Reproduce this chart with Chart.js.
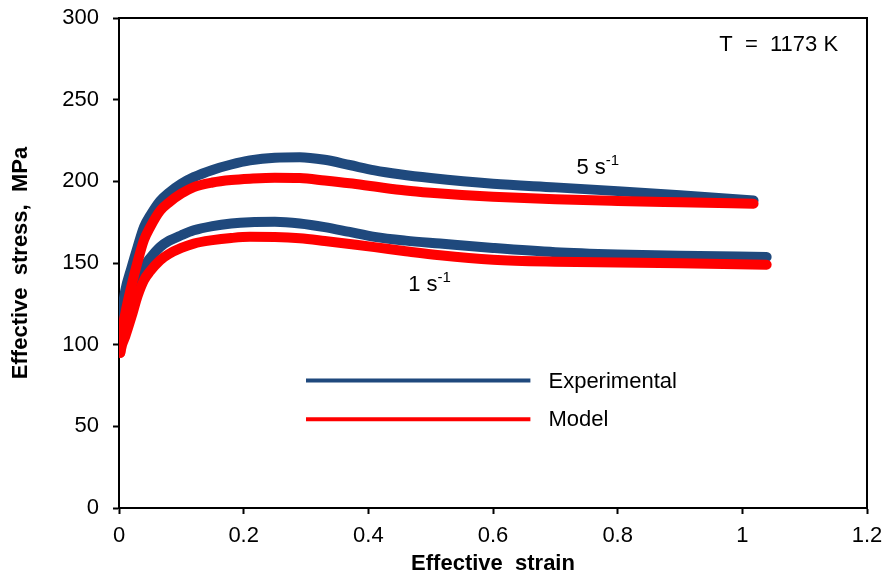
<!DOCTYPE html>
<html>
<head>
<meta charset="utf-8">
<script src="https://cdn.jsdelivr.net/npm/chart.js@4"></script>
<style>
  html, body { margin: 0; padding: 0; background: #fff; }
  #wrap { width: 886px; height: 577px; }
</style>
</head>
<body>
<div id="wrap"><canvas id="flowChart" width="886" height="577"></canvas></div>
<script>
// strain / stress
var exp5Strain = [0.001, 0.005, 0.01, 0.02, 0.03, 0.04, 0.05, 0.066, 0.08, 0.1, 0.12, 0.15, 0.18, 0.21, 0.25, 0.29, 0.33, 0.37, 0.41, 0.45, 0.5, 0.6, 0.7, 0.8, 0.9, 1.018];
var exp5Stress = [105, 120, 133, 147, 160, 172, 179, 188, 193, 198.5, 202.6, 207, 210.3, 212.8, 214.5, 214.8, 213.2, 210, 206.7, 204.3, 202, 198.5, 196.3, 194, 191.5, 188.3];
var mod5Strain = [0.002, 0.005, 0.01, 0.02, 0.03, 0.04, 0.05, 0.066, 0.08, 0.1, 0.12, 0.15, 0.18, 0.21, 0.25, 0.29, 0.33, 0.37, 0.41, 0.46, 0.5, 0.55, 0.6, 0.7, 0.8, 0.9, 1.018];
var mod5Stress = [95, 108, 119, 136, 151, 164, 172, 182, 187, 192.5, 196.5, 199.3, 200.8, 201.6, 202.2, 202, 200.5, 198.8, 196.8, 194.4, 193, 191.6, 190.5, 189, 188, 187.2, 186.3];
var exp1Strain = [0.001, 0.005, 0.01, 0.02, 0.03, 0.04, 0.05, 0.066, 0.08, 0.1, 0.12, 0.15, 0.18, 0.21, 0.25, 0.29, 0.33, 0.37, 0.41, 0.46, 0.515, 0.6, 0.7, 0.8, 0.9, 1.039];
var exp1Stress = [105, 110, 116, 127, 139, 147.6, 153, 159.8, 163.5, 167, 170, 172.6, 174.2, 175, 175.2, 174.2, 172, 169, 166, 163.7, 161.9, 159.2, 156.6, 155.2, 154.4, 153.7];
var mod1Strain = [0.002, 0.005, 0.01, 0.02, 0.03, 0.04, 0.05, 0.066, 0.08, 0.1, 0.12, 0.15, 0.18, 0.21, 0.25, 0.29, 0.33, 0.37, 0.41, 0.46, 0.515, 0.6, 0.7, 0.8, 0.9, 1.039];
var mod1Stress = [95, 100, 105, 117, 130, 139.5, 145, 151.7, 155.5, 159.2, 161.9, 164, 165.3, 166, 165.9, 165.2, 163.5, 161.6, 159.7, 157.2, 154.7, 152, 150.8, 150.3, 149.8, 149];

var xTicks = [0, 0.2, 0.4, 0.6, 0.8, 1, 1.2];
var yTicks = [0, 50, 100, 150, 200, 250, 300];
var legendLabels = ['Experimental', 'Model'];

var blue = '#1F497D';
var red = '#FF0000';
var fontFam = '"Liberation Sans", Arial, sans-serif';

function pts(xs, ys) {
    return xs.map(function (x, i) { return { x: x, y: ys[i] }; });
}

function curve(label, xs, ys, color) {
    return {
        label: label,
        data: pts(xs, ys),
        borderColor: color,
        backgroundColor: color,
        borderWidth: 10,
        borderCapStyle: 'round',
        borderJoinStyle: 'round',
        pointRadius: 0,
        cubicInterpolationMode: 'monotone',
        fill: false
    };
}

// box, legend and text labels
var extras = {
    id: 'extras',
    afterDraw: function (chart) {
        var c = chart.ctx, a = chart.chartArea;
        var xs = chart.scales.x, ys = chart.scales.y;
        c.save();
        c.strokeStyle = '#000';
        c.lineWidth = 2;
        c.beginPath();
        c.moveTo(a.left, a.top);
        c.lineTo(a.right, a.top);
        c.lineTo(a.right, a.bottom);
        c.stroke();

        // legend
        var rows = [[blue, 78], [red, 54.4]];
        c.lineWidth = 4;
        c.font = '22px ' + fontFam;
        c.fillStyle = '#000';
        c.textBaseline = 'middle';
        rows.forEach(function (r, i) {
            var y = ys.getPixelForValue(r[1]);
            c.strokeStyle = r[0];
            c.beginPath();
            c.moveTo(xs.getPixelForValue(0.3), y);
            c.lineTo(xs.getPixelForValue(0.66), y);
            c.stroke();
            c.fillText(legendLabels[i], xs.getPixelForValue(0.689), y + 1);
        });

        // rate labels
        c.textBaseline = 'alphabetic';
        function rate(txt, xv, yv) {
            var x = xs.getPixelForValue(xv), y = ys.getPixelForValue(yv);
            c.font = '22px ' + fontFam;
            c.fillText(txt, x, y);
            var w = c.measureText(txt).width;
            c.font = '15px ' + fontFam;
            c.fillText('-1', x + w, y - 9);
        }
        rate('5 s', 0.734, 204.2);
        rate('1 s', 0.464, 133);

        c.font = '22px ' + fontFam;
        c.fillText('T  =  1173 K', xs.getPixelForValue(0.963), ys.getPixelForValue(280));
        c.restore();
    }
};

var ctx = document.getElementById('flowChart').getContext('2d');
var flowChart = new Chart(ctx, {
    type: 'line',
    data: {
        datasets: [
            curve('Model 5', mod5Strain, mod5Stress, red),
            curve('Model 1', mod1Strain, mod1Stress, red),
            curve('Experimental 5', exp5Strain, exp5Stress, blue),
            curve('Experimental 1', exp1Strain, exp1Stress, blue)
        ]
    },
    options: {
        responsive: false,
        animation: false,
        layout: { padding: { top: 18, right: 19, left: 0, bottom: 0 } },
        plugins: {
            legend: { display: false },
            tooltip: { enabled: false }
        },
        scales: {
            x: {
                type: 'linear',
                min: 0,
                max: 1.2,
                afterBuildTicks: function (s) { s.ticks = xTicks.map(function (v) { return { value: v }; }); },
                afterFit: function (s) { s.height = 69; s.paddingLeft = 0; s.paddingRight = 0; },
                grid: { drawOnChartArea: false, drawTicks: true, tickLength: 6, tickColor: '#000', tickWidth: 2 },
                border: { display: true, color: '#000', width: 2 },
                ticks: {
                    color: '#000', padding: 9, maxRotation: 0,
                    font: { size: 22, family: fontFam },
                    callback: function (v) { return String(Math.round(v * 10) / 10); }
                },
                title: {
                    display: true,
                    text: 'Effective  strain',
                    color: '#000',
                    font: { size: 22, weight: 'bold', family: fontFam },
                    padding: { top: 0, bottom: 0 }
                }
            },
            y: {
                min: 0,
                max: 300,
                afterBuildTicks: function (s) { s.ticks = yTicks.map(function (v) { return { value: v }; }); },
                afterFit: function (s) { s.width = 119; s.paddingTop = 0; s.paddingBottom = 0; },
                grid: { drawOnChartArea: false, drawTicks: true, tickLength: 6, tickColor: '#000', tickWidth: 2 },
                border: { display: true, color: '#000', width: 2 },
                ticks: { color: '#000', padding: 14, font: { size: 22, family: fontFam } },
                title: {
                    display: true,
                    text: 'Effective  stress,  MPa',
                    color: '#000',
                    font: { size: 22, weight: 'bold', family: fontFam },
                    padding: { top: 8, bottom: 0 }
                }
            }
        }
    },
    plugins: [extras]
});
</script>
</body>
</html>
